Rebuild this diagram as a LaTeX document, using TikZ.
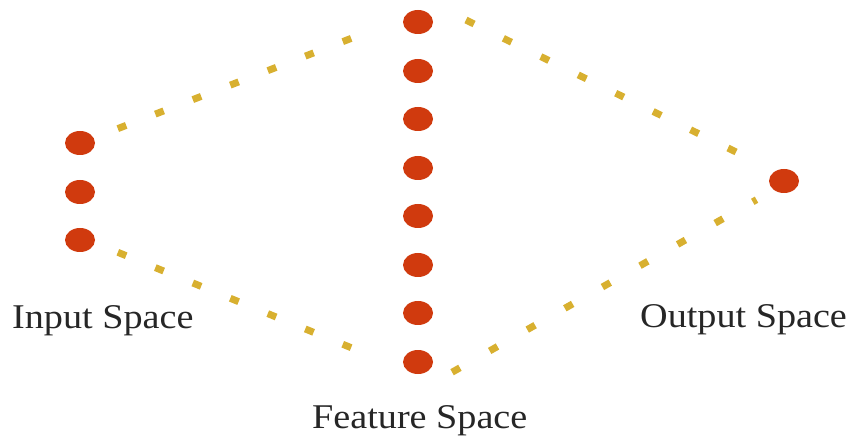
\documentclass[tikz,border=0pt]{standalone}
\usepackage{fontspec}
\setmainfont{Liberation Serif}
\usetikzlibrary{shapes.geometric}
\definecolor{dotred}{RGB}{208,58,14}
\definecolor{gold}{RGB}{216,176,48}
\tikzset{
  dotnode/.style={ellipse, fill=dotred, draw=none, minimum width=30pt, minimum height=24pt, inner sep=0pt},
  goldline/.style={draw=gold, line width=7pt, shorten <=-4.5pt, shorten >=-4.5pt},
  lbl/.style={anchor=base west, inner sep=0pt, font=\fontsize{34.7}{40}\selectfont, text=black!85}
}
\begin{document}
\begin{tikzpicture}[x=1pt, y=-1pt]
\useasboundingbox (0,0) rectangle (854,438);
% input dots
\node[dotnode] (i1) at (80,143) {};
\node[dotnode] (i2) at (80,192) {};
\node[dotnode] (i3) at (80,240) {};
% feature dots
\foreach \k/\yy in {1/22,2/71,3/119,4/168,5/216,6/265,7/313,8/362}
  \node[dotnode] (f\k) at (418,\yy) {};
% output dot
\node[dotnode] (o1) at (784,181) {};
% line ends
\coordinate (tla) at (122,127);
\coordinate (tlb) at (347,40);
\coordinate (bla) at (122,254);
\coordinate (blb) at (347,346);
\coordinate (tra) at (470,22);
\coordinate (trb) at (732,150);
\coordinate (bra) at (456,370);
\coordinate (brb) at (756.5,199.7);
% dotted connectors
\draw[goldline, dash pattern=on 9pt off 31.2pt] (tla) -- (tlb);
\draw[goldline, dash pattern=on 9pt off 31.5pt] (bla) -- (blb);
\draw[goldline, dash pattern=on 9pt off 32.66pt] (tra) -- (trb);
\draw[goldline, shorten >=0pt, dash pattern=on 9pt off 34.2pt] (bra) -- (brb);
% labels
\node[lbl] (lin) at (12,328) {\scalebox{1.1}[1]{Input Space}};
\node[lbl] (lfe) at (312,428) {\scalebox{1.1}[1]{Feature Space}};
\node[lbl] (lout) at (640,327) {\scalebox{1.1}[1]{Output Space}};
\end{tikzpicture}
\end{document}
